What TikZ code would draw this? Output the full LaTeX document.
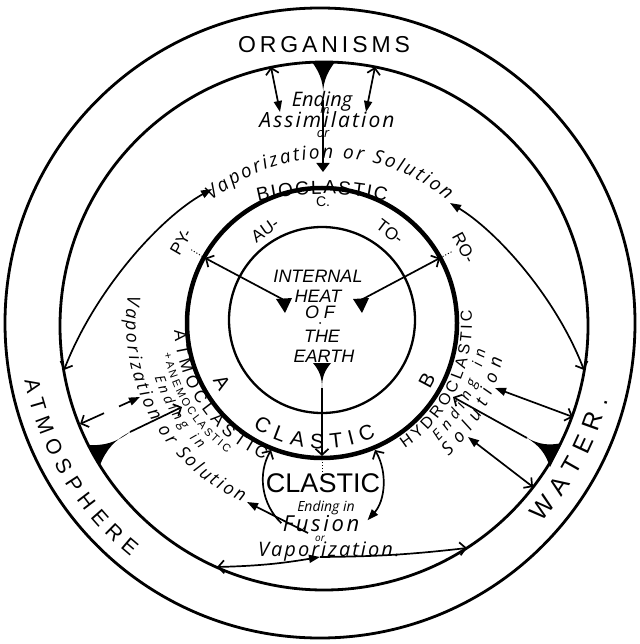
\documentclass[tikz,border=0pt]{standalone}
\usepackage{fontspec}
\newfontfamily\capsfont{Liberation Sans}
\newfontfamily\handfont{Open Sans}
\usetikzlibrary{arrows.meta, calc, decorations.text}

\tikzset{
  circ/.style={line width=2.8pt},
  flow/.style={line width=1.7pt, {Triangle[length=11pt,width=8pt]}-{Straight Barb[length=6pt,width=13pt]}},
  feed/.style={line width=1.7pt, -{Straight Barb[length=6pt,width=13pt]}},
  tail/.style={line width=1.7pt, {Triangle[length=11pt,width=8pt]}-},
  arclabel/.style={decorate, decoration={text along path, text={#1}, text align={fit to path}}},
  lbl/.style={inner sep=0pt, anchor=base},
}

\begin{document}
\begin{tikzpicture}[x=1pt, y=-1pt]
\useasboundingbox (0,0) rectangle (639,644);

% centres
\coordinate (O1) at (320,323);
\coordinate (O2) at (324,326);
\coordinate (O3) at (322,323);
\coordinate (O4) at (322,320);
\coordinate (O5) at (323,480);
\coordinate (Otop) at (330,342);
\coordinate (Obio) at (322,464);

% rings
\draw[circ] (O1) circle[radius=315pt];
\draw[circ] (O2) circle[radius=264pt];
\draw[line width=4.5pt] (O3) circle[radius=135pt];
\draw[line width=2.3pt] (O4) circle[radius=93pt];

% wedges
\coordinate (orgtip) at (323,100);
\coordinate (atmtip) at (130,432);
\coordinate (wattip) at (527,438);
\coordinate (heattip) at (322,388);
\fill (312,62) to[bend left=20] (orgtip) to[bend left=20] (335,62) -- cycle;
\fill (87,445) -- (100,465) to[bend left=20] (atmtip) to[bend left=20] (87,445);
\fill (550,467) -- (562,443) to[bend left=20] (wattip) to[bend left=20] (550,467);
\fill (313,363) to[bend left=20] (heattip) to[bend left=20] (331,363) -- cycle;
\fill (276,299) -- (292,298) -- (285,313) -- cycle;
\fill (353,299) -- (369,298) -- (362,313) -- cycle;
\fill (320,323) circle[radius=1pt];

% end points
\coordinate (pyin) at (284,300);
\coordinate (pyout) at (205,258);
\coordinate (pytag) at (190,249);
\coordinate (roin) at (361,300);
\coordinate (roout) at (440,258);
\coordinate (rotag) at (453,251);
\coordinate (bioc) at (323,172);
\coordinate (clastop) at (322,456);
\coordinate (clasdot) at (322,480);
\coordinate (ol1) at (280,112);
\coordinate (ol2) at (271,67);
\coordinate (or1) at (366,112);
\coordinate (or2) at (375,67);
\coordinate (vapL) at (212,189);
\coordinate (atmL) at (64,370);
\coordinate (solR) at (450,203);
\coordinate (watR) at (584,370);
\coordinate (atmoin) at (182,407);
\coordinate (vapA) at (140,397);
\coordinate (atmA) at (80,424);
\coordinate (hydin) at (453,397);
\coordinate (sol1) at (495,388);
\coordinate (wat1) at (573,417);
\coordinate (sol2) at (468,437);
\coordinate (wat2) at (533,487);
\coordinate (solA) at (247,502);
\coordinate (fus) at (308,533);
\coordinate (vapmid) at (320,557);
\coordinate (atmB) at (217,567);
\coordinate (watB) at (467,548);

% connectors
\draw[feed] (pyin) -- (pyout);
\draw[feed] (roin) -- (roout);
\draw[dotted, line width=1pt] (pyout) -- (pytag);
\draw[dotted, line width=1pt] (roout) -- (rotag);
\draw[line width=1.7pt, -{Triangle[length=9pt,width=13pt]}] (orgtip) -- (bioc);
\draw[feed] (heattip) -- (clastop);
\draw[dotted, line width=1pt] (clastop) -- (clasdot);
\draw[flow] (ol1) -- (ol2);
\draw[flow] (or1) -- (or2);
\draw[flow] (vapL) .. controls (160,218) and (95,290) .. (atmL);
\draw[flow] (solR) .. controls (495,230) and (555,295) .. (watR);
\draw[feed] (atmtip) -- (atmoin);
\draw[tail] (vapA) -- ($(vapA)!0.35!(atmA)$);
\draw[feed] ($(vapA)!0.6!(atmA)$) -- (atmA);
\draw[feed] (wattip) -- (hydin);
\draw[flow] (sol1) -- (wat1);
\draw[flow] (sol2) -- (wat2);
\draw[tail] (solA) -- (fus);
\draw[flow] (vapmid) to[bend left=4] (atmB);
\draw[feed] (vapmid) to[bend right=3] (watB);
\draw[feed] ($(O5)+(226:60pt)$) arc[start angle=226, end angle=150, radius=60pt];
\draw[flow] ($(O5)+(-42:60pt)$) arc[start angle=-42, end angle=30, radius=60pt];

% straight labels
\node[lbl, anchor=center, font=\capsfont\fontsize{23}{23}\selectfont\addfontfeatures{LetterSpace=17}] (org) at (324,45) {ORGANISMS};
\node[lbl, font=\handfont\itshape\fontsize{20}{20}\selectfont] (end1) at (322,107) {Ending};
\node[lbl, font=\handfont\itshape\fontsize{11}{11}\selectfont] (in1) at (325,114) {in};
\node[lbl, font=\handfont\itshape\fontsize{21}{21}\selectfont\addfontfeatures{LetterSpace=10}] (assim) at (327,128) {Assimilation};
\node[lbl, font=\handfont\itshape\fontsize{13}{13}\selectfont] (or1t) at (323,138) {or};
\node[lbl, font=\capsfont\fontsize{14}{14}\selectfont] (cdot) at (323,207) {C.};
\node[lbl, font=\capsfont\itshape\fontsize{18}{18}\selectfont] (heat1) at (318,282) {INTERNAL};
\node[lbl, font=\capsfont\itshape\fontsize{18}{18}\selectfont] (heat2) at (318,302) {HEAT};
\node[lbl, font=\capsfont\itshape\fontsize{18}{18}\selectfont] (heat3) at (320,318) {O F};
\node[lbl, font=\capsfont\itshape\fontsize{18}{18}\selectfont] (heat4) at (322,342) {THE};
\node[lbl, font=\capsfont\itshape\fontsize{18}{18}\selectfont] (heat5) at (324,362) {EARTH};
\node[lbl, anchor=center, rotate=60, font=\capsfont\fontsize{17}{17}\selectfont] (py) at (181,242) {PY-};
\node[lbl, anchor=center, rotate=35, font=\capsfont\fontsize{17}{17}\selectfont] (au) at (265,230) {AU-};
\node[lbl, anchor=center, rotate=-37, font=\capsfont\fontsize{17}{17}\selectfont] (to) at (390,232) {TO-};
\node[lbl, anchor=center, rotate=-62, font=\capsfont\fontsize{17}{17}\selectfont] (ro) at (464,248) {RO-};
\node[lbl, anchor=center, rotate=-59, font=\capsfont\fontsize{20}{20}\selectfont] (la) at (222,383) {A};
\node[lbl, anchor=center, rotate=62, font=\capsfont\fontsize{20}{20}\selectfont] (lb) at (427,380) {B};
\node[lbl, font=\capsfont\fontsize{27}{27}\selectfont] (clas2) at (323,492) {CLASTIC};
\node[lbl, font=\handfont\itshape\fontsize{14}{14}\selectfont] (end2) at (326,511) {Ending in};
\node[lbl, font=\handfont\itshape\fontsize{22}{22}\selectfont\addfontfeatures{LetterSpace=12}] (fusion) at (321,531) {Fusion};
\node[lbl, font=\handfont\itshape\fontsize{10}{10}\selectfont] (or2t) at (320,541) {or};
\node[lbl, font=\handfont\itshape\fontsize{20}{20}\selectfont\addfontfeatures{LetterSpace=10}] (vapo) at (329,556) {Vaporization.};

% curved labels
\path[arclabel={|\capsfont\fontsize{21}{21}\selectfont|ATMOSPHERE}]
  ($(O1)+(191:301pt)$) arc[start angle=191, end angle=231, radius=301pt];
\path[arclabel={|\capsfont\fontsize{25}{25}\selectfont|WATER.}]
  ($(O1)+(318:298pt)$) arc[start angle=318, end angle=345, radius=298pt];
\path[arclabel={|\capsfont\fontsize{19}{19}\selectfont|BIOCLASTIC}]
  ($(Obio)+(103.7:270pt)$) arc[start angle=103.7, end angle=76.3, radius=270pt];
\path[arclabel={|\handfont\itshape\fontsize{19}{19}\selectfont|Vaporization or Solution}]
  ($(Otop)+(130:184pt)$) arc[start angle=130, end angle=50.5, radius=184pt];
\path[arclabel={|\capsfont\fontsize{21}{21}\selectfont|CLASTIC}]
  ($(O3)+(236.5:125.5pt)$) arc[start angle=236.5, end angle=295.5, radius=125.5pt];
\path[arclabel={|\capsfont\fontsize{17}{17}\selectfont|ATMOCLASTIC}]
  ($(O3)+(183:148pt)$) arc[start angle=183, end angle=247, radius=148pt];
\path[arclabel={|\capsfont\fontsize{11}{11}\selectfont|+ANEMOCLASTIC}]
  ($(O3)+(191:161pt)$) arc[start angle=191, end angle=234, radius=161pt];
\path[arclabel={|\handfont\itshape\fontsize{14}{14}\selectfont|Ending in}]
  ($(O3)+(198:176pt)$) arc[start angle=198, end angle=226, radius=176pt];
\path[arclabel={|\handfont\itshape\fontsize{18}{18}\selectfont|Vaporization or Solution}]
  ($(O3)+(172:196pt)$) arc[start angle=172, end angle=246, radius=196pt];
\path[arclabel={|\capsfont\fontsize{16}{16}\selectfont|HYDROCLASTIC}]
  ($(O3)+(303.5:150pt)$) arc[start angle=303.5, end angle=365, radius=150pt];
\path[arclabel={|\handfont\itshape\fontsize{15}{15}\selectfont|Ending in}]
  ($(O3)+(314.5:166pt)$) arc[start angle=314.5, end angle=350.5, radius=166pt];
\path[arclabel={|\handfont\itshape\fontsize{18}{18}\selectfont|Solution}]
  ($(O3)+(313.5:184pt)$) arc[start angle=313.5, end angle=349, radius=184pt];
\end{tikzpicture}
\end{document}
